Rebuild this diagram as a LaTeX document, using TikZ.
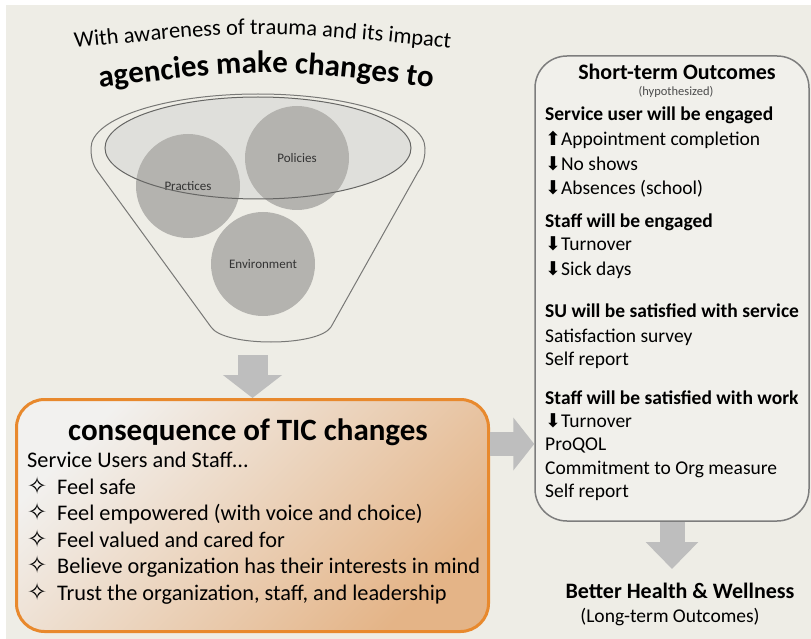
\documentclass[tikz,border=0pt]{standalone}
\usepackage{fontspec}
\setmainfont{Carlito}
\newfontfamily\symfont{DejaVu Sans}
\usetikzlibrary{arrows.meta, positioning, decorations.text}

\definecolor{bgbeige}{RGB}{238,237,230}
\definecolor{ringgray}{RGB}{120,120,118}
\definecolor{ballgray}{RGB}{180,179,175}
\definecolor{lidgray}{RGB}{218,218,215}
\definecolor{arrowgray}{RGB}{190,190,190}
\definecolor{ticorange}{RGB}{232,137,45}
\definecolor{ticpale}{RGB}{242,241,239}
\definecolor{tictan}{RGB}{228,180,135}
\definecolor{boxgray}{RGB}{125,125,125}
\definecolor{boxfill}{RGB}{241,240,235}

\newcommand{\uparr}{{\symfont\fontsize{19}{19}\selectfont ⬆}}
\newcommand{\downarr}{{\symfont\fontsize{19}{19}\selectfont ⬇}}

\begin{document}
\begin{tikzpicture}[x=1pt, y=-1pt,
    bigarrow/.style={draw=arrowgray, line width=30pt, -{Triangle[width=58pt, length=23pt]}},
    outhead/.style={anchor=west, inner sep=0pt, text height=0.7em, text depth=0.2em, font=\bfseries\fontsize{19.5}{22}\selectfont},
    outtext/.style={anchor=west, inner sep=0pt, text height=0.7em, text depth=0.2em, font=\fontsize{19.5}{22}\selectfont},
    ticline/.style={anchor=west, inner sep=0pt, text height=0.7em, text depth=0.2em, font=\fontsize{22.3}{26}\selectfont},
    ball/.style={circle, fill=ballgray, minimum size=104pt, inner sep=0pt, text=black!80, font=\fontsize{13}{15}\selectfont}]

  \useasboundingbox (0,0) rectangle (811,639);
  \fill[white] (0,0) rectangle (811,639);
  \fill[bgbeige] (6,5) rectangle (811,639);

  % curved heading
  \path[decorate, decoration={text along path, text align=center,
      text={|\fontsize{22.5}{26}\selectfont|With awareness of trauma and its impact}}]
    (55,50) .. controls (262,29) .. (470,50);
  \path[decorate, decoration={text along path, text align=center,
      text={|\bfseries\fontsize{31}{36}\selectfont|agencies make changes to}}]
    (80,90) .. controls (266,67) .. (452,90);

  % funnel
  \draw[ringgray, line width=1pt] (98,172) .. controls (92,164) and (91,156) .. (91,148)
    arc[start angle=180, end angle=360, x radius=167, y radius=54]
    .. controls (425,156) and (424,164) .. (418,172) -- (331,327)
    .. controls (318,347) and (224,347) .. (211,327) -- cycle;
  \fill[lidgray, fill opacity=0.7] (258,148) ellipse [x radius=153, y radius=51];
  \node[ball] (practices) at (188,186) {Practices};
  \node[ball] (policies) at (297,158) {Policies};
  \node[ball] (environment) at (263,264) {Environment};
  \draw[ringgray!85!black, line width=1pt] (258,148) ellipse [x radius=153, y radius=51];
  \coordinate (fbottom) at (258,343);

  % consequence box
  \node[draw=ticorange, line width=3pt, rounded corners=28pt, minimum width=472pt, minimum height=232pt,
    top color=ticpale, bottom color=tictan, shading angle=45] (tic) at (252.5,515.5) {};
  \node[inner sep=0pt, font=\bfseries\fontsize{31}{36}\selectfont] (tictitle) at (248,432) {consequence of TIC changes};
  \node[ticline] (who) at (27,465) {Service Users and Staff…};
  \foreach \txt [count=\i] in {Feel safe, {Feel empowered (with voice and choice)}, Feel valued and cared for,
      Believe organization has their interests in mind, {Trust the organization, staff, and leadership}} {
    \node[ticline, font=\fontsize{24}{26}\selectfont] (star\i) at (27,465+26.6*\i) {\symfont ✧};
    \node[ticline] (item\i) at (57,465+26.6*\i) {\txt};
  }

  % short-term outcomes
  \node[draw=boxgray, line width=1.5pt, rounded corners=32pt, fill=boxfill,
    minimum width=274pt, minimum height=465pt] (short) at (672,288.5) {};
  \node[inner sep=0pt, font=\bfseries\fontsize{22}{26}\selectfont] (shorthead) at (677,72) {Short-term Outcomes};
  \node[inner sep=0pt, text=black!70, font=\fontsize{12.5}{14}\selectfont] (hypo) at (676,92) {(hypothesized)};
  \node[outhead] (sueng) at (545,118) {Service user will be engaged};
  \node[outtext] (appt) at (545,143) {\uparr Appointment completion};
  \node[outtext] (noshow) at (545,168) {\downarr No shows};
  \node[outtext] (absent) at (545,192) {\downarr Absences (school)};
  \node[outhead] (steng) at (545,225) {Staff will be engaged};
  \node[outtext] (turn1) at (545,248) {\downarr Turnover};
  \node[outtext] (sick) at (545,273) {\downarr Sick days};
  \node[outhead] (susat) at (545,315) {SU will be satisfied with service};
  \node[outtext] (survey) at (545,340) {Satisfaction survey};
  \node[outtext] (self1) at (545,363) {Self report};
  \node[outhead] (stsat) at (545,402) {Staff will be satisfied with work};
  \node[outtext] (turn2) at (545,425) {\downarr Turnover};
  \node[outtext] (proqol) at (545,448) {ProQOL};
  \node[outtext] (commit) at (545,472) {Commitment to Org measure};
  \node[outtext] (self2) at (545,495) {Self report};

  % long-term outcome
  \node[inner sep=0pt, font=\bfseries\fontsize{22}{26}\selectfont] (health) at (680,591) {Better Health \& Wellness};
  \node[inner sep=0pt, font=\fontsize{19.5}{22}\selectfont] (longterm) at (670,617) {(Long-term Outcomes)};

  % block arrows
  \draw[bigarrow, shorten <=12pt] (tic.north |- fbottom) -- (tic.north);
  \draw[bigarrow, line width=24pt, -{Triangle[width=52pt, length=21pt]}]
    ([yshift=71.5pt]tic.east) -- ([yshift=71.5pt]tic.east -| short.west);
  \draw[bigarrow, line width=25pt, -{Triangle[width=51pt, length=27pt]}, shorten >=14pt]
    (short.south) -- (short.south |- health.north);
\end{tikzpicture}
\end{document}
